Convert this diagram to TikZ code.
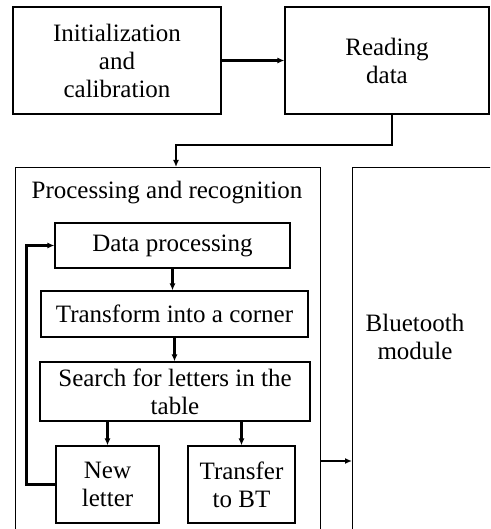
\documentclass[tikz,border=0pt]{standalone}
\usepackage{fontspec}
\setmainfont{Liberation Serif}
\usepackage{tikz}
\usetikzlibrary{arrows.meta}

\begin{document}
\begin{tikzpicture}[x=1pt,y=-1pt]
			\tikzstyle{block} = [draw, line width=1.2pt, align=center, inner sep=0pt, font=\fontsize{25}{28}\selectfont]
			\tikzstyle{caption} = [align=center, font=\fontsize{25}{28}\selectfont]
			\tikzstyle{flow} = [draw, line width=2.2pt, -{Latex[length=7pt,width=6pt]}]
			
			\useasboundingbox (0,0) rectangle (490,529);
			\clip (0,0) rectangle (490,529);
			
			\node[block, minimum width=208, minimum height=107](init) at (117,60.5) {Initialization\\and\\calibration};
			\node[block, minimum width=204, minimum height=107](read) at (387,60.5) {Reading\\data};
			\draw[flow](init) -- (read);
			
			\node[block, anchor=north west, minimum width=305, minimum height=380](proc) at (15,167) {};
			\node[caption](proctitle) at (167,193) {Processing and recognition};
			
			\node[block, anchor=north west, minimum width=160, minimum height=380](bt) at (352,167) {};
			\node[caption](bttitle) at (415,337) {Bluetooth\\module};
			
			\coordinate (bend) at (176,145);
			\draw[flow]([xshift=5pt]read.south) |- (bend) -- (bend |- proc.north);
			
			\node[block, minimum width=235, minimum height=45](dataproc) at (172.5,245.5) {Data processing};
			\node[block, minimum width=267, minimum height=46](corner) at (174.5,314) {Transform into a corner};
			\node[block, minimum width=270, minimum height=59](search) at (175,391.5) {Search for letters in the\\table};
			\draw[flow](dataproc.south) -- (dataproc.south |- corner.north);
			\draw[flow](corner.south) -- (corner.south |- search.north);
			
			\node[block, minimum width=103, minimum height=77](newletter) at (107.5,484.5) {New\\letter};
			\node[block, minimum width=107, minimum height=77](transfer) at (241.5,484.5) {Transfer\\to BT};
			\draw[flow](search.south -| newletter.north) -- (newletter.north);
			\draw[flow](search.south -| transfer.north) -- (transfer.north);
			\draw[flow](newletter.west) -- ++(-29,0) |- (dataproc.west);
			
			\coordinate (btlink) at (320,461);
			\draw[flow](btlink) -- (btlink -| bt.west);
			
			\end{tikzpicture}
\end{document}
